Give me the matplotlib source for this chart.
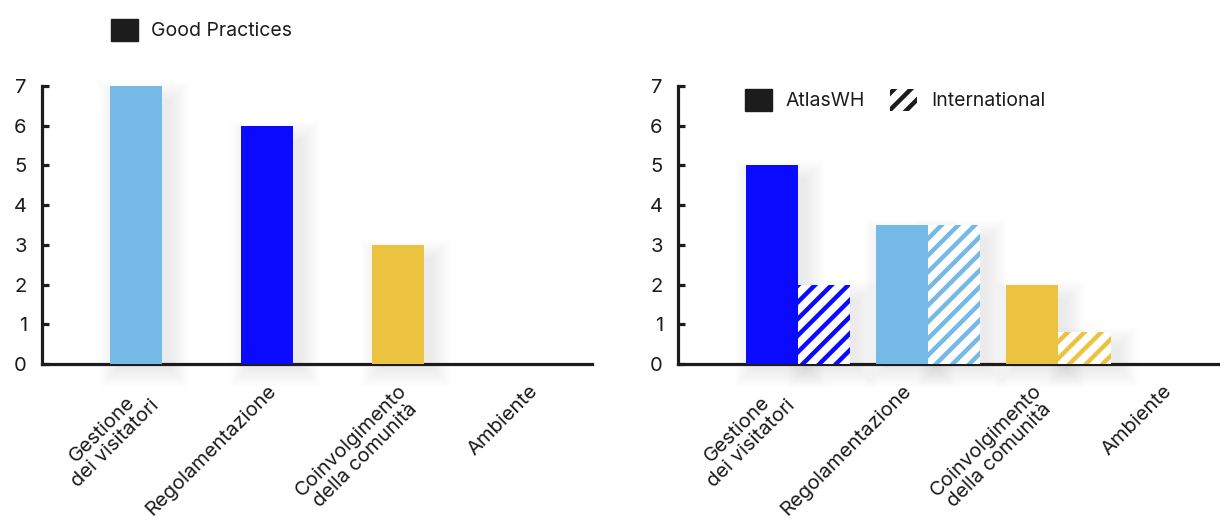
import matplotlib
matplotlib.use("Agg")
import matplotlib.pyplot as plt
from matplotlib.patches import Rectangle
import numpy as np

plt.rcParams['font.family'] = ['Inter', 'DejaVu Sans']
plt.rcParams['hatch.linewidth'] = 3.2

categories = ['Gestione\ndei visitatori', 'Regolamentazione',
              'Coinvolgimento\ndella comunità', 'Ambiente']
good_practices = [7, 6, 3, 0]
atlas_wh = [5, 3.5, 2, 0]
international = [2, 3.5, 0.8, 0]

left_colors = ['#75b9e7', '#0a0aff', '#ecc340', '#75b9e7']
right_colors = ['#0a0aff', '#75b9e7', '#ecc340', '#0a0aff']
ink = '#1c1c1c'

W, H = 1220, 522
fig = plt.figure(figsize=(W / 100, H / 100), dpi=100)
ax1 = fig.add_axes([42 / W, 1 - 364 / H, 550 / W, 278 / H])
ax2 = fig.add_axes([678 / W, 1 - 364 / H, 542 / W, 278 / H])


def style(ax, xlim, ticks):
    ax.set_ylim(0, 7)
    ax.set_xlim(*xlim)
    for s in ('top', 'right'):
        ax.spines[s].set_visible(False)
    for s in ('left', 'bottom'):
        ax.spines[s].set_linewidth(2.3)
        ax.spines[s].set_color(ink)
    ax.set_yticks(range(8))
    ax.tick_params(axis='y', direction='in', length=5, width=2.3,
                   color=ink, labelsize=14.5, pad=11, labelcolor=ink)
    ax.tick_params(axis='x', length=0, pad=13, labelsize=14.5, labelcolor=ink)
    ax.set_xticks(ticks)
    ax.set_xticklabels(categories, rotation=45, ha='right', va='top',
                       rotation_mode='anchor', multialignment='center',
                       linespacing=1.12)
    ax.set_facecolor('none')


def soft_shadow(ax, bars):
    # stacked faint rectangles behind each bar give a blurred drop shadow
    fig.canvas.draw()
    inv = ax.transData.inverted()
    for b in bars:
        if b.get_height() <= 0:
            continue
        (x0, y0), (x1, y1) = ax.transData.transform(
            [(b.get_x(), 0), (b.get_x() + b.get_width(), b.get_height())])
        for r in range(0, 20):
            p0 = inv.transform((x0 - r + 8, y0 - r - 4))
            p1 = inv.transform((x1 + r + 8, y1 + r - 14))
            ax.add_patch(Rectangle(p0, p1[0] - p0[0], p1[1] - p0[1],
                                   facecolor='black', alpha=0.005,
                                   linewidth=0, zorder=1, clip_on=False))


x = np.arange(len(categories))

style(ax1, (-0.72, 3.48), x)
bars1 = ax1.bar(x, good_practices, width=0.4, color=left_colors, zorder=3)
soft_shadow(ax1, bars1)

style(ax2, (-0.92, 3.24), x - 0.2)
bars2a = ax2.bar(x - 0.2, atlas_wh, width=0.4, color=right_colors, zorder=3)
bars2b = ax2.bar(x + 0.2, international, width=0.4, color='white',
                 edgecolor=right_colors, hatch='//', linewidth=0, zorder=3)
soft_shadow(ax2, bars2a)
soft_shadow(ax2, bars2b)

# legends
fig.legend(handles=[Rectangle((0, 0), 1, 1, color=ink)],
           labels=['Good Practices'], loc='center left',
           bbox_to_anchor=(93 / W, 1 - 30 / H), frameon=False,
           fontsize=14, handlelength=1.4, handleheight=1.4,
           handletextpad=0.7, labelcolor=ink)

ax2.legend(handles=[Rectangle((0, 0), 1, 1, color=ink),
                    Rectangle((0, 0), 1, 1, facecolor='white',
                              edgecolor=ink, hatch='//', linewidth=0)],
           labels=['AtlasWH', 'International'], loc='center left',
           bbox_to_anchor=(727 / W, 1 - 100 / H),
           bbox_transform=fig.transFigure, frameon=False, ncol=2,
           fontsize=14, handlelength=1.4, handleheight=1.4,
           handletextpad=0.7, columnspacing=1.3, labelcolor=ink)

fig.savefig('out.png', dpi=100)
